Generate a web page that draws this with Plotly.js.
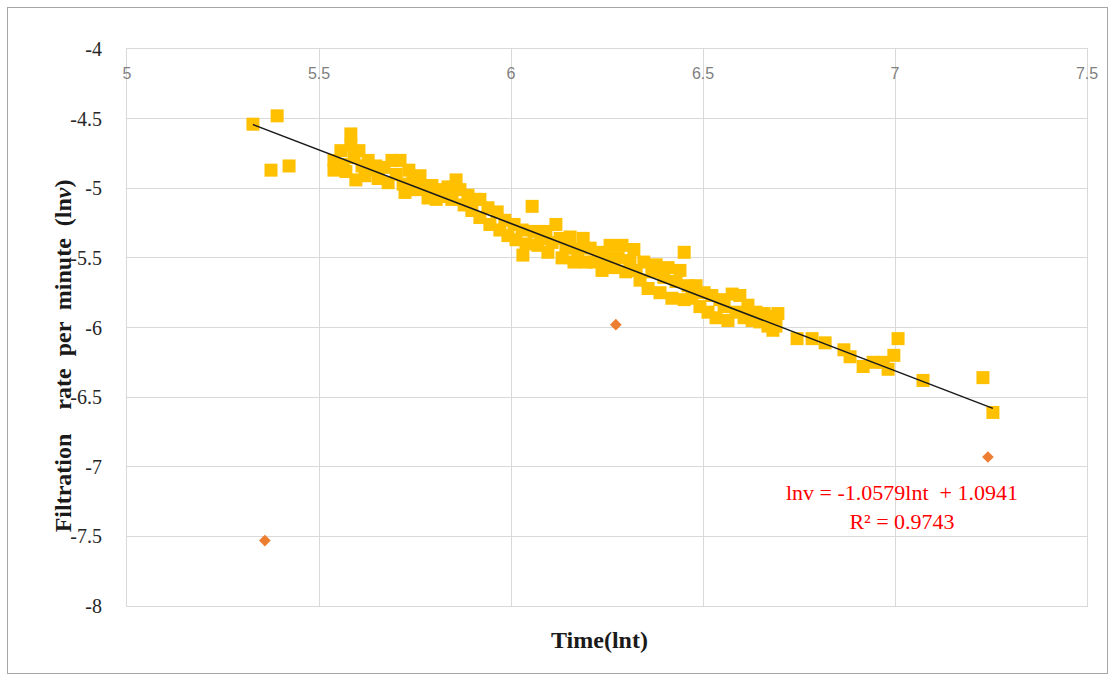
<!DOCTYPE html>
<html>
<head>
<meta charset="utf-8">
<script src="https://cdn.plot.ly/plotly-3.0.1.min.js"></script>
<style>
  html, body { margin: 0; padding: 0; background: #ffffff; }
  #wrap { position: relative; width: 1115px; height: 681px; }
  #chart { width: 1115px; height: 681px; }
  #frame { position: absolute; left: 7px; top: 7px; width: 1099px; height: 665px;
           border: 1.5px solid #a6a6a6; pointer-events: none; }
</style>
</head>
<body>
<div id="wrap"><div id="chart"></div><div id="frame"></div></div>
<script>
// Measured series (ln t, ln v)
const yellowX = [
  5.328, 5.391, 5.375, 5.422,
  5.539, 5.539, 5.557, 5.563, 5.570, 5.583, 5.583, 5.591, 5.596, 5.604,
  5.612, 5.620, 5.628, 5.638, 5.648, 5.654, 5.669, 5.680, 5.690, 5.701,
  5.711, 5.719, 5.724, 5.734, 5.745, 5.753, 5.763, 5.773, 5.784, 5.794,
  5.805, 5.815, 5.826, 5.836, 5.846, 5.857, 5.867, 5.878, 5.888, 5.898, 5.909,
  5.919, 5.919, 5.940, 5.945, 5.964, 5.971, 5.984, 5.992, 6.008, 6.013,
  6.029, 6.039, 6.060, 6.070, 6.076, 6.091, 6.096, 6.107, 6.117, 6.128,
  6.133, 6.143, 6.154, 6.164, 6.174, 6.188, 6.195, 6.206, 6.216, 6.227,
  6.237, 6.247, 6.258, 6.268, 6.279, 6.289, 6.299, 6.310, 6.055, 6.031,
  6.320, 6.326, 6.336, 6.346, 6.357, 6.367, 6.378, 6.388, 6.398, 6.409,
  6.419, 6.430, 6.440, 6.451, 6.451, 6.461, 6.471, 6.482, 6.492, 6.503,
  6.513, 6.523, 6.534, 6.544, 6.555, 6.565, 6.576, 6.586, 6.596, 6.607,
  6.617, 6.628, 6.638, 6.648, 6.659, 6.669, 6.680, 6.690,
  6.695, 6.682, 6.745, 6.784, 6.818, 6.867, 6.883, 6.917, 6.943, 6.969,
  6.982, 6.997, 7.008, 7.073, 7.229, 7.255
];
const yellowY = [
  -4.54, -4.48, -4.87, -4.84,
  -4.80, -4.87, -4.73, -4.83, -4.88, -4.61, -4.69, -4.78, -4.94, -4.73,
  -4.84, -4.91, -4.80, -4.87, -4.84, -4.93, -4.85, -4.96, -4.80, -4.90,
  -4.80, -4.97, -5.03, -4.87, -4.94, -5.01, -4.91, -4.98, -5.07, -4.98,
  -5.08, -5.01, -5.06, -4.99, -5.08, -4.94, -5.01, -5.12, -5.05, -5.16, -5.08,
  -5.08, -5.21, -5.14, -5.26, -5.17, -5.30, -5.23, -5.34, -5.26, -5.37,
  -5.30, -5.40, -5.31, -5.41, -5.36, -5.31, -5.46, -5.39, -5.26, -5.36,
  -5.50, -5.43, -5.35, -5.53, -5.44, -5.36, -5.53, -5.43, -5.53, -5.46,
  -5.59, -5.50, -5.41, -5.57, -5.50, -5.41, -5.60, -5.52, -5.13, -5.48,
  -5.44, -5.59, -5.66, -5.53, -5.72, -5.60, -5.55, -5.75, -5.64, -5.57,
  -5.79, -5.67, -5.59, -5.46, -5.80, -5.70, -5.79, -5.70, -5.85, -5.75,
  -5.89, -5.77, -5.93, -5.80, -5.85, -5.95, -5.76, -5.89, -5.77, -5.93,
  -5.84, -5.95, -5.89, -5.96, -5.90, -5.99, -5.92, -5.99,
  -5.90, -6.02, -6.08, -6.08, -6.11, -6.16, -6.21, -6.28, -6.25, -6.25,
  -6.30, -6.20, -6.08, -6.38, -6.36, -6.61
];
const orangeX = [5.359, 6.273, 7.242];
const orangeY = [-7.53, -5.98, -6.93];

// Trendline shown on the chart
const trendSlope = -1.0579;
const trendIntercept = 1.0941;
const trendLabel = 'lnv = -1.0579lnt \u00a0+ 1.0941<br>R² = 0.9743';

// Axis ticks
const xTickVals = [5, 5.5, 6, 6.5, 7, 7.5];
const xTickText = ['5', '5.5', '6', '6.5', '7', '7.5'];
const yTickVals = [-8, -7.5, -7, -6.5, -6, -5.5, -5, -4.5, -4];
const yTickText = ['-8', '-7.5', '-7', '-6.5', '-6', '-5.5', '-5', '-4.5', '-4'];

const xMin = Math.min(...yellowX), xMax = Math.max(...yellowX);
const trendX = [xMin, xMax];
const trendY = trendX.map(v => trendSlope * v + trendIntercept);

const traces = [
  { x: yellowX, y: yellowY, type: 'scatter', mode: 'markers',
    marker: { symbol: 'square', size: 13, color: '#FFC000' }, hoverinfo: 'skip' },
  { x: orangeX, y: orangeY, type: 'scatter', mode: 'markers',
    marker: { symbol: 'diamond', size: 9, color: '#ED7D31' }, hoverinfo: 'skip' },
  { x: trendX, y: trendY, type: 'scatter', mode: 'lines',
    line: { color: '#1a1a1a', width: 1.5 }, hoverinfo: 'skip' },
  { x: [], y: [], xaxis: 'x2', yaxis: 'y', type: 'scatter', mode: 'markers', hoverinfo: 'skip' }
];

const serif = '"Liberation Serif", "Times New Roman", serif';
const sans = '"Liberation Sans", Arial, sans-serif';

const layout = {
  width: 1115, height: 681,
  margin: { l: 127, r: 28, t: 49, b: 75 },
  paper_bgcolor: '#ffffff', plot_bgcolor: '#ffffff',
  showlegend: false,
  xaxis: {
    range: [5, 7.5], side: 'top', tickvals: xTickVals, showticklabels: false, ticks: '',
    showgrid: true, gridcolor: '#d9d9d9', gridwidth: 1,
    showline: true, linecolor: '#d9d9d9', linewidth: 1, mirror: true, zeroline: false
  },
  xaxis2: {
    range: [5, 7.5], overlaying: 'x', anchor: 'free', position: 0.977, side: 'bottom',
    tickvals: xTickVals, ticktext: xTickText, ticks: '',
    tickfont: { family: sans, size: 16, color: '#7f7f7f' },
    showgrid: false, showline: false, zeroline: false
  },
  yaxis: {
    range: [-8, -4], tickvals: yTickVals, ticktext: yTickText, ticks: '',
    ticklabelstandoff: 20,
    tickfont: { family: serif, size: 20, color: '#262626' },
    showgrid: true, gridcolor: '#d9d9d9', gridwidth: 1,
    showline: true, linecolor: '#d9d9d9', linewidth: 1, mirror: true, zeroline: false
  },
  annotations: [
    { text: trendLabel, x: 7.018, y: -7.289, xref: 'x', yref: 'y', showarrow: false,
      align: 'center', xanchor: 'center', yanchor: 'middle',
      font: { family: serif, size: 22, color: '#FF0000' } },
    { text: '<b>Filtration \u00a0 \u00a0rate \u00a0per \u00a0minute \u00a0(ln<i>v</i>)</b>', textangle: -90,
      x: -0.0667, y: 0.45, xref: 'paper', yref: 'paper', showarrow: false,
      xanchor: 'center', yanchor: 'middle',
      font: { family: serif, size: 24, color: '#1a1a1a' } },
    { text: '<b>Time(lnt)</b>', x: 0.4917, y: -0.061, xref: 'paper', yref: 'paper',
      showarrow: false, xanchor: 'center', yanchor: 'middle',
      font: { family: serif, size: 24, color: '#1a1a1a' } }
  ]
};

Plotly.newPlot('chart', traces, layout, { displayModeBar: false, staticPlot: true });
</script>
</body>
</html>
